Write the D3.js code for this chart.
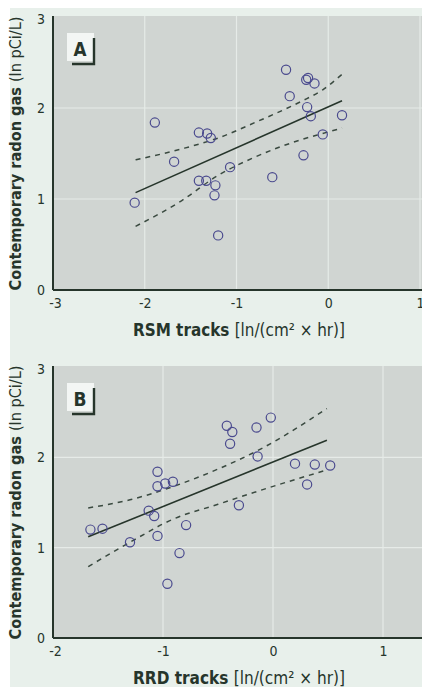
<!DOCTYPE html>
<html>
<head>
<meta charset="utf-8">
<script src="https://cdn.jsdelivr.net/npm/d3@7"></script>
<style>
  body { margin: 0; background: #fff; }
  svg text { font-family: "Liberation Sans Narrow", "DejaVu Sans Condensed", sans-serif; fill: #26352b; }
</style>
</head>
<body>
<svg id="chart"></svg>
<script>
// panel A : RSM tracks
var rsmX = [-0.46, -0.22, -0.24, -0.15, -0.42, -0.23, -0.19, 0.15, -0.06, -1.89, -1.41, -1.32,
            -1.28, -0.27, -1.68, -1.07, -1.41, -1.33, -1.23, -1.24, -0.61, -2.11, -1.20];
var rsmY = [2.42, 2.33, 2.31, 2.27, 2.13, 2.01, 1.91, 1.92, 1.71, 1.84, 1.73, 1.72,
            1.67, 1.48, 1.41, 1.35, 1.20, 1.20, 1.15, 1.04, 1.24, 0.96, 0.60];
var rsmFitX = [-2.10, 0.15];
var rsmFitY = [1.07, 2.08];
var rsmBandX = [-2.10, -1.60, -1.20, -0.80, -0.30, -0.06, 0.15];
var rsmUpper = [1.43, 1.55, 1.67, 1.84, 2.07, 2.20, 2.37];
var rsmLower = [0.70, 0.98, 1.26, 1.46, 1.65, 1.72, 1.78];

// panel B : RRD tracks
var rrdX = [-0.42, -0.37, -0.39, -0.15, -0.02, -0.14, 0.20, 0.38, 0.52, 0.31, -1.05, -1.05,
            -0.98, -0.91, -0.31, -1.13, -1.08, -1.66, -1.55, -1.30, -1.05, -0.79, -0.85, -0.96];
var rrdY = [2.35, 2.28, 2.15, 2.33, 2.44, 2.01, 1.93, 1.92, 1.91, 1.70, 1.84, 1.68,
            1.71, 1.73, 1.47, 1.41, 1.35, 1.20, 1.21, 1.06, 1.13, 1.25, 0.94, 0.60];
var rrdFitX = [-1.68, 0.49];
var rrdFitY = [1.12, 2.19];
var rrdBandX = [-1.68, -1.30, -0.90, -0.50, -0.10, 0.49];
var rrdUpper = [1.44, 1.53, 1.68, 1.87, 2.10, 2.54];
var rrdLower = [0.79, 1.06, 1.32, 1.48, 1.64, 1.86];

var yTicks = [0, 1, 2, 3];
var rsmTicks = [-3, -2, -1, 0, 1];
var rrdTicks = [-2, -1, 0, 1];

var width = 422, height = 687;
var ink = "#26352b";

var svg = d3.select("#chart").attr("width", width).attr("height", height);

// pale page background with white strip on left/top
svg.append("rect").attr("x", 0).attr("y", 0).attr("width", width).attr("height", height).attr("fill", "#ffffff");
svg.append("rect").attr("x", 10).attr("y", 8).attr("width", width - 10).attr("height", height - 8).attr("fill", "#e8f0eb");

function zip(a, b) { return a.map(function(d, i) { return [d, b[i]]; }); }
function plain(d) { return String(d); }

function drawPanel(p) {
  var x = d3.scaleLinear().domain(p.xDomain).range([p.left, p.right]);
  var y = d3.scaleLinear().domain([0, 3]).range([p.bottom, p.top]);
  var g = svg.append("g");

  // plot background
  g.append("rect")
    .attr("x", p.left).attr("y", p.top - 1)
    .attr("width", width - p.left).attr("height", p.bottom - p.top + 1)
    .attr("fill", "#d0d5d2");

  // grid
  g.selectAll(".vg").data(p.xTicks.filter(function(d) { return d > p.xDomain[0]; }))
    .enter().append("line")
    .attr("x1", function(d) { return x(d); }).attr("x2", function(d) { return x(d); })
    .attr("y1", p.top - 1).attr("y2", p.bottom)
    .attr("stroke", "#e6ebe8").attr("stroke-width", 1.2);
  g.selectAll(".hg").data(yTicks.filter(function(d) { return d > 0 && d < 3; }))
    .enter().append("line")
    .attr("x1", p.left).attr("x2", width)
    .attr("y1", function(d) { return y(d); }).attr("y2", function(d) { return y(d); })
    .attr("stroke", "#e6ebe8").attr("stroke-width", 1.2);

  // axes
  var yAxis = g.append("g").attr("transform", "translate(" + p.left + ",0)")
    .call(d3.axisLeft(y).tickValues(yTicks).tickFormat(plain).tickSize(0).tickPadding(8));
  var xAxis = g.append("g").attr("transform", "translate(0," + p.bottom + ")")
    .call(d3.axisBottom(x).tickValues(p.xTicks).tickFormat(plain).tickSize(0).tickPadding(8));
  [yAxis, xAxis].forEach(function(a) {
    a.select(".domain").attr("stroke", ink).attr("stroke-width", 2);
    a.selectAll("text").style("font-size", "14px").attr("fill", "#3a463e");
  });
  yAxis.selectAll("text").filter(function(d) { return d === 3; }).attr("dy", "0.45em");
  xAxis.selectAll("text").filter(function(d) { return d === p.xDomain[0]; }).attr("dx", 2);
  yAxis.select(".domain").attr("d", "M0," + (p.top - 1) + "V" + p.bottom);
  xAxis.select(".domain").attr("d", "M" + p.left + ",0H" + width);

  // confidence bands
  var band = d3.line().x(function(d) { return x(d[0]); }).y(function(d) { return y(d[1]); })
    .curve(d3.curveMonotoneX);
  [p.upper, p.lower].forEach(function(arr) {
    g.append("path").datum(zip(p.bandX, arr)).attr("d", band)
      .attr("fill", "none").attr("stroke", "#3a4a40").attr("stroke-width", 1.5)
      .attr("stroke-dasharray", "5,5");
  });

  // regression line
  g.append("path").datum(zip(p.fitX, p.fitY)).attr("d", band)
    .attr("fill", "none").attr("stroke", ink).attr("stroke-width", 1.6);

  // points
  g.selectAll(".pt").data(zip(p.xs, p.ys)).enter().append("circle")
    .attr("cx", function(d) { return x(d[0]); })
    .attr("cy", function(d) { return y(d[1]); })
    .attr("r", 4.6)
    .attr("fill", "none").attr("stroke", "#4a4a8e").attr("stroke-width", 1.2);

  // panel letter box
  g.append("rect").attr("x", p.left + 14).attr("y", p.top + 16)
    .attr("width", 27).attr("height", 28).attr("fill", "#f3f6f4");
  g.append("text").attr("x", p.left + 27).attr("y", p.top + 39)
    .attr("text-anchor", "middle").style("font-size", "19px").style("font-weight", "bold")
    .attr("textLength", 13).attr("lengthAdjust", "spacingAndGlyphs")
    .text(p.letter);
  g.append("path")
    .attr("d", "M" + (p.left + 41) + "," + (p.top + 21) + "V" + (p.top + 47) + "H" + (p.left + 19))
    .attr("fill", "none").attr("stroke", ink).attr("stroke-width", 2.4);

  // y title
  var yt = g.append("text")
    .attr("transform", "translate(21," + ((p.top + p.bottom) / 2) + ") rotate(-90)")
    .attr("text-anchor", "middle").style("font-size", "16.5px")
    .attr("textLength", 274).attr("lengthAdjust", "spacingAndGlyphs");
  yt.append("tspan").style("font-weight", "bold").text("Contemporary radon gas ");
  yt.append("tspan").text("(ln pCi/L)");

  // x title
  var xt = g.append("text").attr("x", 239).attr("y", p.titleY)
    .attr("text-anchor", "middle").style("font-size", "17.5px")
    .attr("textLength", 212).attr("lengthAdjust", "spacingAndGlyphs");
  xt.append("tspan").style("font-weight", "bold").text(p.xName + " ");
  xt.append("tspan").text("[ln/(cm\u00b2 \u00d7 hr)]");
}

drawPanel({
  letter: "A", xName: "RSM tracks", xDomain: [-3, 1], xTicks: rsmTicks,
  left: 53, right: 420, top: 17, bottom: 290, titleY: 336,
  xs: rsmX, ys: rsmY, fitX: rsmFitX, fitY: rsmFitY,
  bandX: rsmBandX, upper: rsmUpper, lower: rsmLower
});
drawPanel({
  letter: "B", xName: "RRD tracks", xDomain: [-2, 1], xTicks: rrdTicks,
  left: 53, right: 383, top: 367, bottom: 638, titleY: 684,
  xs: rrdX, ys: rrdY, fitX: rrdFitX, fitY: rrdFitY,
  bandX: rrdBandX, upper: rrdUpper, lower: rrdLower
});
</script>
</body>
</html>
